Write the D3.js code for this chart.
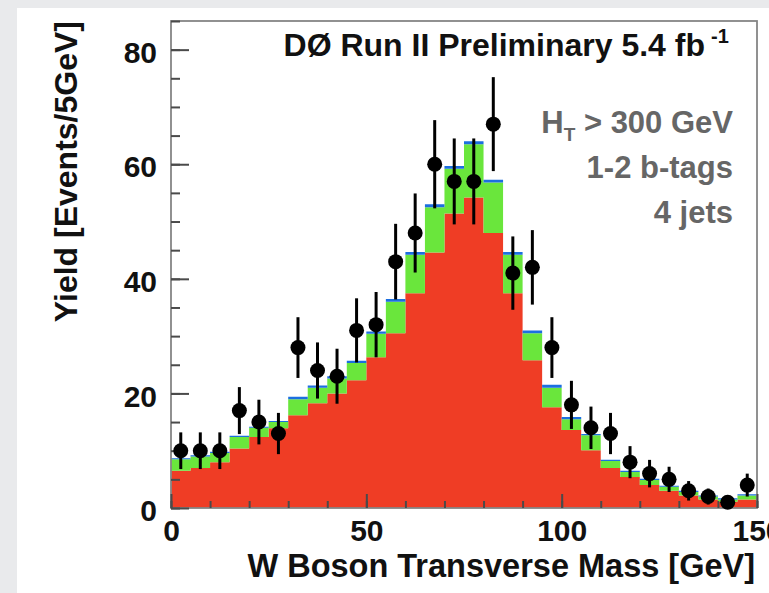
<!DOCTYPE html>
<html>
<head>
<meta charset="utf-8">
<script src="https://cdn.jsdelivr.net/npm/d3@7"></script>
<style>
  body { margin: 0; background: #e9eaec; }
  svg { display: block; }
  text { font-family: "Liberation Sans", Arial, Helvetica, sans-serif; }
</style>
</head>
<body>
<svg id="chart" width="769" height="593"></svg>
<script>
// Lower edge of each 5 GeV bin in W transverse mass
const binLow = [0, 5, 10, 15, 20, 25, 30, 35, 40, 45, 50, 55, 60, 65, 70,
                75, 80, 85, 90, 95, 100, 105, 110, 115, 120, 125, 130, 135, 140, 145];
const binWidth = 5;

// Stacked prediction components (events / 5 GeV)
const redYield   = [6.5, 7.0, 8.0, 10.4, 12.4, 13.9, 16.2, 18.3, 20.0, 22.3, 26.3, 30.5, 37.5, 44.6, 51.4,
                    54.2, 48.0, 37.5, 25.8, 17.6, 13.6, 10.1, 7.0, 5.4, 4.0, 3.0, 2.2, 1.5, 1.1, 1.5];
const greenYield = [2.0, 2.0, 1.6, 2.0, 1.6, 1.1, 2.8, 2.7, 2.6, 3.0, 4.1, 5.5, 6.7, 7.9, 7.8,
                    9.3, 8.8, 6.7, 4.7, 3.4, 1.9, 2.6, 1.2, 0.9, 0.9, 0.7, 0.6, 0.5, 0.4, 0.7];
const blueYield  = [0.2, 0.2, 0.2, 0.2, 0.2, 0.2, 0.4, 0.4, 0.4, 0.4, 0.4, 0.5, 0.5, 0.5, 0.5,
                    0.5, 0.5, 0.5, 0.5, 0.5, 0.4, 0.2, 0.2, 0.2, 0.2, 0.2, 0.2, 0.2, 0.2, 0.2];

// Observed data with error bars
const dataCounts = [10, 10, 10, 17, 15, 13, 28, 24, 23, 31, 32, 43, 48, 60, 57,
                    57, 67, 41, 42, 28, 18, 14, 13, 8, 6, 5, 3, 2, 1, 4];
const dataErrors = [3.2, 3.2, 3.2, 4.1, 3.9, 3.6, 5.3, 4.9, 4.8, 5.6, 5.7, 6.6, 6.9, 7.7, 7.5,
                    7.5, 8.2, 6.4, 6.5, 5.3, 4.2, 3.7, 3.6, 2.8, 2.4, 2.2, 1.7, 1.4, 1.0, 2.0];

const xTicks = [0, 50, 100, 150];
const yTicks = [0, 20, 40, 60, 80];
const cutLines = ["1-2 b-tags", "4 jets"];

const COLORS = { red: "#ef3d25", green: "#6ae63c", blue: "#1c6fe0" };

const svg = d3.select("#chart");

// white canvas panel on light grey page
svg.append("rect")
  .attr("x", 17).attr("y", 8)
  .attr("width", 769 - 17).attr("height", 593 - 8)
  .attr("fill", "#ffffff");

const x = d3.scaleLinear().domain([0, 150]).range([171, 757]);
const y = d3.scaleLinear().domain([0, 85]).range([508, 21]);

// Stacked step histograms
const rows = binLow.map((lo, i) => ({
  lo: lo, red: redYield[i], green: greenYield[i], blue: blueYield[i]
}));
const series = d3.stack().keys(["red", "green", "blue"])(rows);

const area = d3.area()
  .x(d => x(d.x))
  .y0(d => y(d.y0))
  .y1(d => y(d.y1))
  .curve(d3.curveStepAfter);

series.forEach(s => {
  const pts = s.map(d => ({ x: d.data.lo, y0: d[0], y1: d[1] }));
  const last = pts[pts.length - 1];
  pts.push({ x: last.x + binWidth, y0: last.y0, y1: last.y1 });
  svg.append("path")
    .datum(pts)
    .attr("d", area)
    .attr("fill", COLORS[s.key]);
});

// Frame
svg.append("rect")
  .attr("x", x(0)).attr("y", y(85))
  .attr("width", x(150) - x(0)).attr("height", y(0) - y(85))
  .attr("fill", "none")
  .attr("stroke", "#858585")
  .attr("stroke-width", 1.8);

function styleTicks(g) {
  g.select(".domain").remove();
  g.selectAll(".tick line").attr("stroke", "#4a4a4a").attr("stroke-width", 2);
}

// Y ticks (inward)
svg.append("g")
  .attr("transform", `translate(${x(0)},0)`)
  .call(d3.axisRight(y).tickValues(y.ticks(17)).tickSize(9).tickFormat(""))
  .call(styleTicks);
svg.append("g")
  .attr("transform", `translate(${x(0)},0)`)
  .call(d3.axisRight(y).tickValues(yTicks).tickSize(18).tickFormat(""))
  .call(styleTicks);

// X ticks (inward)
svg.append("g")
  .attr("transform", `translate(0,${y(0)})`)
  .call(d3.axisTop(x).tickValues(x.ticks(15)).tickSize(7).tickFormat(""))
  .call(styleTicks);
svg.append("g")
  .attr("transform", `translate(0,${y(0)})`)
  .call(d3.axisTop(x).tickValues(xTicks).tickSize(14).tickFormat(""))
  .call(styleTicks);

// Tick labels
const yLab = svg.append("g")
  .attr("transform", `translate(${x(0)},0)`)
  .call(d3.axisLeft(y).tickValues(yTicks).tickSize(0).tickPadding(14).tickFormat(d3.format("d")));
yLab.select(".domain").remove();
yLab.selectAll("text")
  .attr("dy", "0.42em")
  .attr("fill", "#111")
  .style("font-size", "30px")
  .style("font-weight", "bold")
  .style("font-family", "'Liberation Sans', Arial, sans-serif");

const xLab = svg.append("g")
  .attr("transform", `translate(0,${y(0)})`)
  .call(d3.axisBottom(x).tickValues(xTicks).tickSize(0).tickPadding(12).tickFormat(d3.format("d")));
xLab.select(".domain").remove();
xLab.selectAll("text")
  .attr("fill", "#111")
  .style("font-size", "30px")
  .style("font-weight", "bold")
  .style("font-family", "'Liberation Sans', Arial, sans-serif");

// Data points with error bars
const pts = svg.append("g");
binLow.forEach((lo, i) => {
  const cx = x(lo + binWidth / 2);
  pts.append("line")
    .attr("x1", cx).attr("x2", cx)
    .attr("y1", y(Math.max(0, dataCounts[i] - dataErrors[i])))
    .attr("y2", y(dataCounts[i] + dataErrors[i]))
    .attr("stroke", "#000").attr("stroke-width", 3);
  pts.append("circle")
    .attr("cx", cx).attr("cy", y(dataCounts[i]))
    .attr("r", 7.5)
    .attr("fill", "#000");
});

// Axis titles
svg.append("text")
  .attr("x", 755).attr("y", 577)
  .attr("text-anchor", "end")
  .attr("font-size", 32.5).attr("font-weight", "bold")
  .attr("fill", "#111")
  .text("W Boson Transverse Mass [GeV]");

svg.append("text")
  .attr("transform", "translate(77,21) rotate(-90)")
  .attr("text-anchor", "end")
  .attr("font-size", 32).attr("font-weight", "bold")
  .attr("fill", "#111")
  .text("Yield [Events/5GeV]");

// Experiment label
svg.append("text")
  .attr("x", 705).attr("y", 56)
  .attr("text-anchor", "end")
  .attr("font-size", 32).attr("font-weight", "bold")
  .attr("fill", "#111")
  .text("DØ Run II Preliminary 5.4 fb");
svg.append("text")
  .attr("x", 711).attr("y", 43)
  .attr("font-size", 20).attr("font-weight", "bold")
  .attr("fill", "#111")
  .text("-1");

// Selection cuts
const ht = svg.append("text")
  .attr("x", 733).attr("y", 133)
  .attr("text-anchor", "end")
  .attr("font-size", 31).attr("font-weight", "bold")
  .attr("fill", "#666");
ht.append("tspan").text("H");
ht.append("tspan").attr("font-size", 19).attr("dy", 8).text("T");
ht.append("tspan").attr("dy", -8).text(" > 300 GeV");

cutLines.forEach((t, i) => {
  svg.append("text")
    .attr("x", 733).attr("y", 178 + i * 45)
    .attr("text-anchor", "end")
    .attr("font-size", 31).attr("font-weight", "bold")
    .attr("fill", "#666")
    .text(t);
});
</script>
</body>
</html>
